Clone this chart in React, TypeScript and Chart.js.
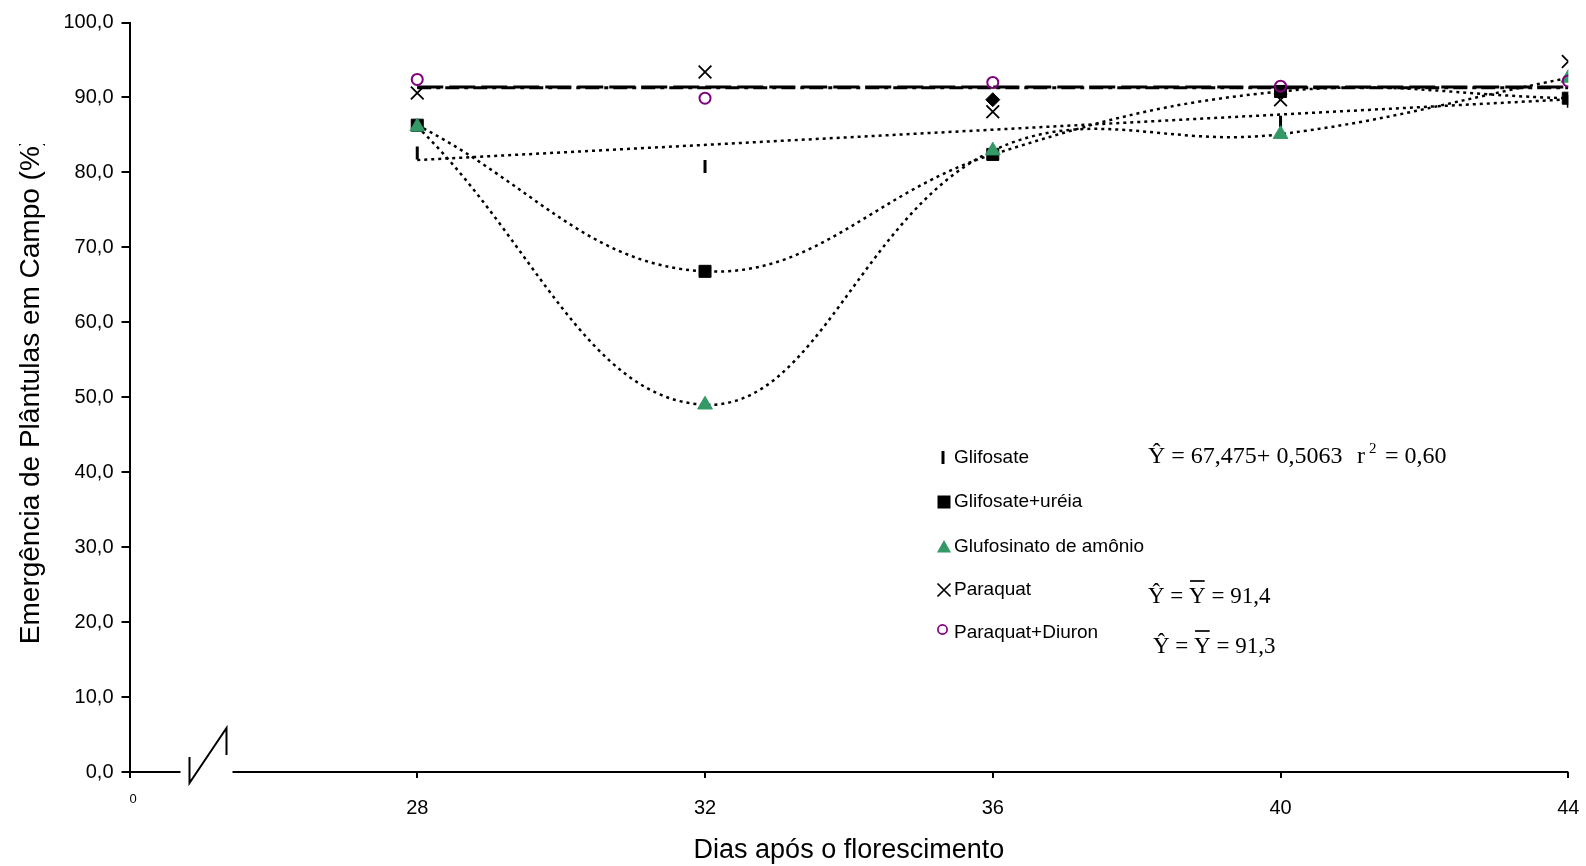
import React, { useEffect, useRef } from 'react';
import { Chart, registerables } from 'chart.js';

Chart.register(...registerables);

// ---- data ----
const days = [28, 32, 36, 40, 44];
const xTickValues = [24, 28, 32, 36, 40, 44]; // 24 is the broken-axis origin, labelled "0"
const yTickValues = [0, 10, 20, 30, 40, 50, 60, 70, 80, 90, 100];

const glifosate = [82.6, 80.8, 89.7, 86.7, 89.5];
const glifosateUreia = [86.3, 66.8, 82.4, 90.8, 89.9];
const glufosinato = [86.1, 49.0, 82.9, 85.1, 92.6];
const paraquat = [90.6, 93.4, 88.1, 89.7, 94.8];
const paraquatDiuron = [92.4, 89.9, 92.0, 91.5, 92.2];

const trendDays = [28, 44];
const glifosateTrend = [81.65, 89.75];
const paraquatMean = [91.4, 91.4];
const paraquatDiuronMean = [91.3, 91.3];

const legendLabels = ['Glifosate', 'Glifosate+uréia', 'Glufosinato de amônio', 'Paraquat', 'Paraquat+Diuron'];
const xTitle = 'Dias após o florescimento';
const yTitle = 'Emergência de Plântulas em Campo (%)';

const SANS = '"Liberation Sans", Arial, sans-serif';
const SERIF = '"Liberation Serif", "Times New Roman", serif';
const GREEN = '#339966';
const PURPLE = '#800080';

const pts = (xs: number[], ys: number[]) => xs.map((x, i) => ({ x, y: ys[i] }));

const decorations = {
  id: 'decorations',
  afterDraw(chart: any) {
    const ctx: CanvasRenderingContext2D = chart.ctx;
    const ys = chart.scales.y;
    const area = chart.chartArea;
    const left = area.left;
    const right = area.right;
    const y0 = ys.getPixelForValue(0);
    ctx.save();

    // x axis with break
    ctx.strokeStyle = '#000';
    ctx.lineWidth = 2;
    ctx.beginPath();
    ctx.moveTo(left, y0);
    ctx.lineTo(left + 51, y0);
    ctx.moveTo(left + 103, y0);
    ctx.lineTo(right, y0);
    ctx.stroke();
    ctx.beginPath();
    ctx.moveTo(left + 60, y0 - 15);
    ctx.lineTo(left + 60, y0 + 11);
    ctx.lineTo(left + 97, y0 - 44);
    ctx.lineTo(left + 97, y0 - 17);
    ctx.stroke();

    // small "0" at origin
    ctx.fillStyle = '#000';
    ctx.font = `13px ${SANS}`;
    ctx.textAlign = 'center';
    ctx.textBaseline = 'middle';
    ctx.fillText('0', left + 3.5, 799);

    // x title
    ctx.font = `27px ${SANS}`;
    ctx.textAlign = 'center';
    ctx.textBaseline = 'alphabetic';
    ctx.fillText(xTitle, (left + right) / 2, 858);

    // y title (clipped at top like the original)
    ctx.save();
    ctx.beginPath();
    ctx.rect(0, 144, 80, 866);
    ctx.clip();
    ctx.translate(31, 390.5);
    ctx.rotate(-Math.PI / 2);
    ctx.font = `28px ${SANS}`;
    ctx.textAlign = 'center';
    ctx.textBaseline = 'middle';
    ctx.fillText(yTitle, 0, 0);
    ctx.restore();

    // legend
    const rowY = [458, 502, 547, 590, 633];
    const mx = 944;
    const tx = 954;
    // Glifosate bar
    ctx.strokeStyle = '#000';
    ctx.lineWidth = 3;
    ctx.beginPath();
    ctx.moveTo(mx - 1, rowY[0] - 7);
    ctx.lineTo(mx - 1, rowY[0] + 6);
    ctx.stroke();
    // square
    ctx.fillStyle = '#000';
    ctx.fillRect(mx - 6.5, rowY[1] - 6.5, 13, 13);
    // triangle
    ctx.fillStyle = GREEN;
    ctx.beginPath();
    ctx.moveTo(mx, rowY[2] - 7);
    ctx.lineTo(mx + 7, rowY[2] + 5.5);
    ctx.lineTo(mx - 7, rowY[2] + 5.5);
    ctx.closePath();
    ctx.fill();
    // cross
    ctx.strokeStyle = '#000';
    ctx.lineWidth = 1.7;
    ctx.beginPath();
    ctx.moveTo(mx - 6.5, rowY[3] - 6.5);
    ctx.lineTo(mx + 6.5, rowY[3] + 6.5);
    ctx.moveTo(mx + 6.5, rowY[3] - 6.5);
    ctx.lineTo(mx - 6.5, rowY[3] + 6.5);
    ctx.stroke();
    // circle
    ctx.strokeStyle = PURPLE;
    ctx.lineWidth = 1.7;
    ctx.beginPath();
    ctx.arc(mx - 1.5, rowY[4] - 3.5, 4.6, 0, Math.PI * 2);
    ctx.stroke();

    ctx.fillStyle = '#000';
    ctx.font = `19px ${SANS}`;
    ctx.textAlign = 'left';
    ctx.textBaseline = 'middle';
    legendLabels.forEach((l, i) => ctx.fillText(l, tx, rowY[i]));

    // equations
    ctx.font = `24px ${SERIF}`;
    ctx.textBaseline = 'middle';
    ctx.fillText('Ŷ = 67,475+ 0,5063', 1148, 457);
    ctx.fillText('r', 1357, 457);
    ctx.font = `15px ${SERIF}`;
    ctx.fillText('2', 1369, 449);
    ctx.font = `24px ${SERIF}`;
    ctx.fillText('= 0,60', 1385, 457);

    const meanEq = (x: number, y: number, val: string) => {
      ctx.font = `23px ${SERIF}`;
      const a = 'Ŷ = ';
      ctx.fillText(a, x, y);
      const xa = x + ctx.measureText(a).width;
      ctx.fillText('Y', xa, y);
      const wy = ctx.measureText('Y').width;
      ctx.strokeStyle = '#000';
      ctx.lineWidth = 1.7;
      ctx.beginPath();
      ctx.moveTo(xa + 1, y - 16);
      ctx.lineTo(xa + wy - 1, y - 16);
      ctx.stroke();
      ctx.fillText(' = ' + val, xa + wy, y);
    };
    meanEq(1148, 597, '91,4');
    meanEq(1153, 647, '91,3');

    ctx.restore();
  },
};

export default function App() {
  const ref = useRef<HTMLCanvasElement>(null);
  useEffect(() => {
    document.body.style.margin = '0';
    const canvas = ref.current;
    if (!canvas) return;
    const lineBase = {
      showLine: true,
      pointRadius: 0,
      borderColor: '#000',
      backgroundColor: '#000',
      fill: false,
    };
    const chart = new Chart(canvas, {
      type: 'scatter',
      data: {
        datasets: [
          {
            label: legendLabels[4],
            data: pts(days, paraquatDiuron),
            pointStyle: 'circle',
            pointRadius: 5.5,
            pointBorderWidth: 2,
            borderColor: PURPLE,
            backgroundColor: 'rgba(0,0,0,0)',
            order: 0,
          },
          {
            label: legendLabels[2],
            data: pts(days, glufosinato),
            pointStyle: 'triangle',
            pointRadius: 8.5,
            pointBorderWidth: 1,
            borderColor: GREEN,
            backgroundColor: GREEN,
            order: 1,
          },
          {
            label: legendLabels[1],
            data: pts(days, glifosateUreia),
            pointStyle: 'rect',
            pointRadius: 8.5,
            pointBorderWidth: 1,
            borderColor: '#000',
            backgroundColor: '#000',
            order: 2,
          },
          {
            label: legendLabels[3],
            data: pts(days, paraquat),
            pointStyle: 'crossRot',
            pointRadius: 9,
            pointBorderWidth: 1.8,
            borderColor: '#000',
            backgroundColor: '#000',
            order: 3,
          },
          {
            label: legendLabels[0],
            data: pts(days, glifosate),
            pointStyle: ['line', 'line', 'rectRot', 'line', 'line'],
            pointRotation: [90, 90, 0, 90, 90],
            pointRadius: [6.5, 6.5, 7, 6.5, 6.5],
            pointBorderWidth: [3, 3, 1, 3, 3],
            borderColor: '#000',
            backgroundColor: '#000',
            order: 4,
          },
          {
            ...lineBase,
            label: 'uréia curve',
            data: pts(days, glifosateUreia),
            borderWidth: 2.5,
            borderDash: [3, 4],
            tension: 0.4,
            order: 10,
          },
          {
            ...lineBase,
            label: 'glufosinato curve',
            data: pts(days, glufosinato),
            borderWidth: 2.5,
            borderDash: [3, 4],
            tension: 0.4,
            order: 10,
          },
          {
            ...lineBase,
            label: 'glifosate trend',
            data: pts(trendDays, glifosateTrend),
            borderWidth: 2.5,
            borderDash: [3, 4],
            order: 10,
          },
          {
            ...lineBase,
            label: 'paraquat mean',
            data: pts(trendDays, paraquatMean),
            borderWidth: 3,
            borderDash: [26, 6],
            order: 10,
          },
          {
            ...lineBase,
            label: 'paraquat+diuron mean',
            data: pts(trendDays, paraquatDiuronMean),
            borderWidth: 3,
            borderDash: [14, 5, 4, 5],
            order: 10,
          },
        ],
      },
      options: {
        responsive: false,
        animation: false,
        devicePixelRatio: 1,
        events: [],
        layout: { padding: { top: 22.5, right: 17.7, left: 0, bottom: 0 }, autoPadding: false },
        plugins: {
          legend: { display: false },
          tooltip: { enabled: false },
          title: { display: false },
        },
        scales: {
          x: {
            type: 'linear',
            min: 24,
            max: 44,
            afterFit: (s: any) => {
              s.height = 94;
              s.paddingLeft = 0;
              s.paddingRight = 0;
            },
            afterBuildTicks: (s: any) => {
              s.ticks = xTickValues.map((v) => ({ value: v }));
            },
            ticks: {
              autoSkip: false,
              maxRotation: 0,
              padding: 18,
              color: '#000',
              font: { size: 20, family: SANS },
              callback: (v: any) => (Number(v) === 24 ? '' : String(v)),
            },
            grid: {
              display: true,
              drawOnChartArea: false,
              drawTicks: true,
              tickLength: 6,
              color: '#000',
              lineWidth: 2,
            },
            border: { display: false },
          },
          y: {
            type: 'linear',
            min: 0,
            max: 100,
            afterFit: (s: any) => {
              s.width = 129.5;
            },
            afterBuildTicks: (s: any) => {
              s.ticks = yTickValues.map((v) => ({ value: v }));
            },
            ticks: {
              padding: 8,
              color: '#000',
              font: { size: 20, family: SANS },
              callback: (v: any) => Number(v).toFixed(1).replace('.', ','),
            },
            grid: {
              display: true,
              drawOnChartArea: false,
              drawTicks: true,
              tickLength: 8,
              color: '#000',
              lineWidth: 2,
            },
            border: { display: true, color: '#000', width: 2 },
          },
        },
      },
      plugins: [decorations],
    } as any);
    return () => chart.destroy();
  }, []);
  return (
    <div style={{ width: 1586, height: 866, background: '#fff' }}>
      <canvas ref={ref} width={1586} height={866} style={{ display: 'block' }} />
    </div>
  );
}
